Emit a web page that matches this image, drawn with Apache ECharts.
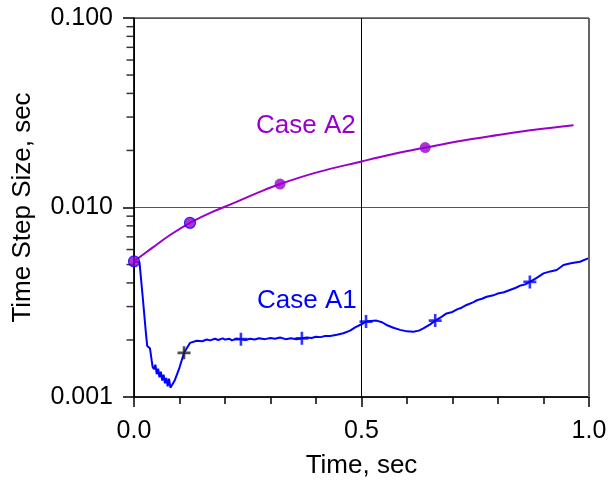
<!DOCTYPE html>
<html>
<head>
<meta charset="utf-8">
<script src="https://cdn.jsdelivr.net/npm/echarts@6/dist/echarts.min.js"></script>
<style>
  html, body { margin: 0; padding: 0; background: #fff; }
  #chart { width: 610px; height: 484px; }
</style>
</head>
<body>
<div id="chart"></div>
<script>
// Case A1 time step history
const a1Time = [0.000, 0.012, 0.020, 0.026, 0.029, 0.035, 0.039, 0.041, 0.044, 0.047,
  0.050, 0.053, 0.056, 0.059, 0.062, 0.065, 0.068, 0.071, 0.074, 0.077,
  0.080, 0.084, 0.090, 0.100, 0.110, 0.123, 0.138, 0.150, 0.160, 0.167,
  0.178, 0.185, 0.195, 0.200, 0.210, 0.215, 0.225, 0.235, 0.245, 0.255,
  0.265, 0.275, 0.288, 0.300, 0.310, 0.321, 0.333, 0.345, 0.357, 0.369,
  0.380, 0.390, 0.400, 0.410, 0.420, 0.431, 0.446, 0.460, 0.475, 0.486,
  0.500, 0.510, 0.520, 0.533, 0.545, 0.555, 0.570, 0.585, 0.600, 0.614,
  0.626, 0.636, 0.650, 0.662, 0.675, 0.687, 0.700, 0.710, 0.720, 0.731,
  0.745, 0.755, 0.765, 0.775, 0.790, 0.800, 0.813, 0.826, 0.838, 0.850,
  0.860, 0.870, 0.885, 0.900, 0.915, 0.929, 0.944, 0.960, 0.980, 0.998];
const a1Step = [0.00516, 0.00516, 0.0032, 0.0022, 0.00186, 0.00181, 0.00155, 0.00144, 0.00140, 0.00148,
  0.00132, 0.00141, 0.00127, 0.00136, 0.00122, 0.00131, 0.00118, 0.00126, 0.00114, 0.00125,
  0.00112, 0.00116, 0.00123, 0.00143, 0.00171, 0.00193, 0.00198, 0.00197, 0.00201, 0.00199,
  0.00203, 0.00200, 0.00204, 0.00201, 0.00203, 0.00199, 0.00203, 0.00202, 0.00200, 0.00203,
  0.00201, 0.00204, 0.00202, 0.00205, 0.00203, 0.00206, 0.00202, 0.00204, 0.00202, 0.00204,
  0.00206, 0.00205, 0.00208, 0.00207, 0.00210, 0.00210, 0.00213, 0.00217, 0.00224, 0.00233,
  0.00242, 0.00250, 0.00252, 0.00253, 0.00248, 0.00240, 0.00232, 0.00226, 0.00222, 0.00221,
  0.00224, 0.00230, 0.00241, 0.00253, 0.00264, 0.00276, 0.00281, 0.00290, 0.00296, 0.00306,
  0.00316, 0.00325, 0.00330, 0.00338, 0.00344, 0.00352, 0.00357, 0.00367, 0.00376, 0.00388,
  0.00393, 0.00405, 0.00425, 0.00449, 0.00460, 0.00468, 0.00497, 0.00508, 0.00517, 0.00539];
const a1MarkTime = [0.110, 0.235, 0.369, 0.510, 0.662, 0.870];
const a1MarkStep = [0.00171, 0.00202, 0.00204, 0.00250, 0.00253, 0.00405];

// Case A2 time step history
const a2Time = [0.000, 0.040, 0.080, 0.123, 0.170, 0.220, 0.270, 0.321, 0.400, 0.500,
  0.570, 0.640, 0.720, 0.800, 0.880, 0.966];
const a2Step = [0.00520, 0.00612, 0.00718, 0.00830, 0.00942, 0.01057, 0.01190, 0.01330, 0.01528, 0.01750,
  0.01915, 0.02070, 0.02250, 0.02410, 0.02570, 0.02720];
const a2MarkTime = [0.000, 0.123, 0.321, 0.640];
const a2MarkStep = [0.0052, 0.0083, 0.0133, 0.0207];

// minor ticks on the log axis (2..9 per decade)
const yMinorTicks = [0.002, 0.003, 0.004, 0.005, 0.006, 0.007, 0.008, 0.009,
  0.02, 0.03, 0.04, 0.05, 0.06, 0.07, 0.08, 0.09];

const FONT = "'Liberation Sans', Arial, sans-serif";
const PURPLE = '#9900cc';
const BLUE = '#0000ff';
const PLUS = 'path://M4,0H6V4H10V6H6V10H4V6H0V4H4Z';

const zip = (xs, ys) => xs.map((x, i) => [x, ys[i]]);

const chart = echarts.init(document.getElementById('chart'));

chart.setOption({
  animation: false,
  backgroundColor: '#fff',
  grid: {
    left: 134, right: 21, top: 18, bottom: 87,
    show: true, borderColor: '#000', borderWidth: 1,
    containLabel: false
  },
  xAxis: {
    type: 'value', min: 0, max: 1, interval: 0.5,
    name: 'Time, sec', nameLocation: 'middle', nameGap: 56,
    nameTextStyle: { fontFamily: FONT, fontSize: 26, color: '#000' },
    axisLine: { lineStyle: { color: '#000', width: 1.5 } },
    axisTick: { show: true, length: 10, lineStyle: { color: '#000', width: 1.5 } },
    minorTick: { show: true, splitNumber: 5, length: 7, lineStyle: { color: '#000', width: 1.5 } },
    axisLabel: {
      fontFamily: FONT, fontSize: 25, color: '#000', margin: 22,
      formatter: v => v.toFixed(1)
    },
    splitLine: { show: true, lineStyle: { color: '#000', width: 1 } }
  },
  yAxis: {
    type: 'log', logBase: 10, min: 0.001, max: 0.1,
    name: 'Time Step Size, sec', nameLocation: 'middle', nameGap: 98,
    nameTextStyle: { fontFamily: FONT, fontSize: 26, color: '#000' },
    axisLine: { show: true, lineStyle: { color: '#000', width: 1.5 } },
    axisTick: { show: true, length: 11, lineStyle: { color: '#000', width: 1.5 } },
    axisLabel: {
      fontFamily: FONT, fontSize: 25, color: '#000', margin: 21,
      formatter: v => Number(v).toFixed(3)
    },
    splitLine: { show: true, lineStyle: { color: '#555', width: 1 } }
  },
  graphic: [
    { type: 'text', left: 256, top: 113, style: { text: 'Case A2', fill: PURPLE, font: '26px ' + FONT } },
    { type: 'text', left: 257, top: 288, style: { text: 'Case A1', fill: BLUE, font: '26px ' + FONT } },
    // right frame edge is drawn grey and a little heavier in the original
    { type: 'line', shape: { x1: 589, y1: 18, x2: 589, y2: 397 }, style: { stroke: '#666', lineWidth: 2 }, z: 10 }
  ],
  series: [
    {
      name: 'ticks', type: 'scatter', data: yMinorTicks.map(v => [0, v]),
      symbol: 'rect', symbolSize: [7, 1.5], symbolOffset: [-4, 0],
      itemStyle: { color: '#000' }, clip: false, silent: true, z: 5
    },
    {
      name: 'Case A1', type: 'line', data: zip(a1Time, a1Step),
      showSymbol: false, lineStyle: { color: BLUE, width: 2 }, z: 2
    },
    {
      name: 'Case A2', type: 'line', data: zip(a2Time, a2Step), smooth: 0.4,
      showSymbol: false, lineStyle: { color: PURPLE, width: 2 }, z: 3
    },
    {
      name: 'A1 marks', type: 'scatter', data: zip(a1MarkTime, a1MarkStep),
      symbol: PLUS, symbolSize: 13,
      itemStyle: { color: params => params.dataIndex === 0 ? '#222' : BLUE },
      z: 4
    },
    {
      name: 'A2 marks', type: 'scatter',
      data: zip(a2MarkTime, a2MarkStep).map((d, i) => ({
        value: d,
        itemStyle: i < 2 ? { borderColor: BLUE, borderWidth: 1.2 } : {}
      })),
      symbol: 'circle', symbolSize: 11,
      itemStyle: { color: PURPLE }, clip: false, z: 6
    }
  ]
});
</script>
</body>
</html>
